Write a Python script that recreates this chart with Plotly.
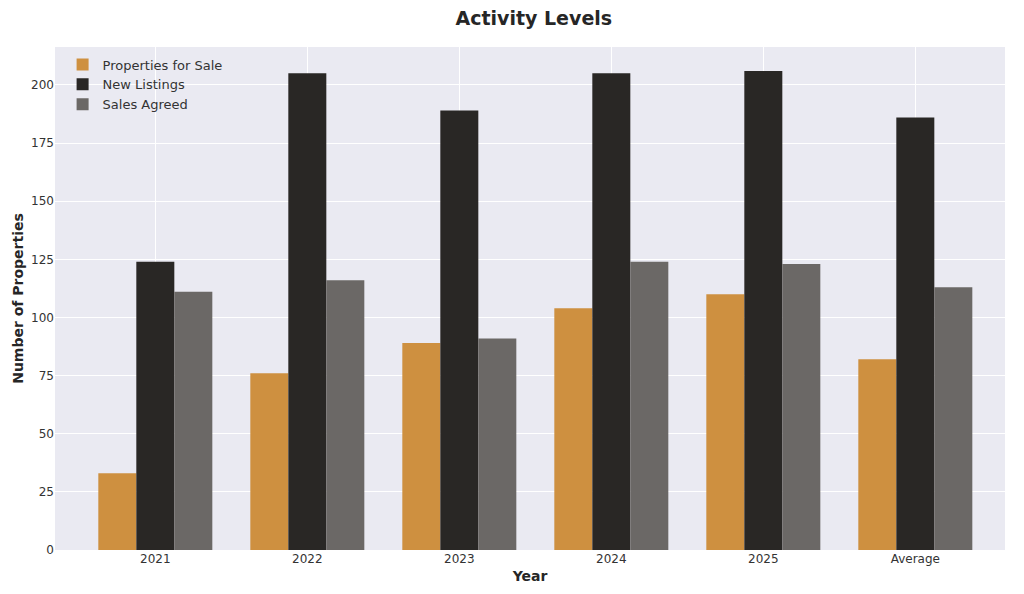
import plotly.graph_objects as go

categories = ["2021", "2022", "2023", "2024", "2025", "Average"]
properties_for_sale = [33, 76, 89, 104, 110, 82]
new_listings = [124, 205, 189, 205, 206, 186]
sales_agreed = [111, 116, 91, 124, 123, 113]
y_ticks = [0, 25, 50, 75, 100, 125, 150, 175, 200]

fig = go.Figure()
fig.add_trace(go.Bar(name="Properties for Sale", x=categories, y=properties_for_sale,
                     marker=dict(color="#CE9040", line=dict(width=0))))
fig.add_trace(go.Bar(name="New Listings", x=categories, y=new_listings,
                     marker=dict(color="#292725", line=dict(width=0))))
fig.add_trace(go.Bar(name="Sales Agreed", x=categories, y=sales_agreed,
                     marker=dict(color="#6B6866", line=dict(width=0))))

fig.update_layout(
    width=1016, height=586,
    barmode="group", bargap=0.25, bargroupgap=0,
    paper_bgcolor="white", plot_bgcolor="#EAEAF2",
    font=dict(family="DejaVu Sans", color="#333333", size=12),
    title=dict(text="<b>Activity Levels</b>", xref="paper", x=0.504, xanchor="center", y=0.983, yanchor="middle",
               font=dict(size=19, color="#262626")),
    margin=dict(l=47, r=19, t=39, b=44),
    legend=dict(x=0.008, y=0.995, xanchor="left", yanchor="top", bgcolor="rgba(0,0,0,0)",
                font=dict(size=13, color="#333333"), itemwidth=30, tracegroupgap=0),
    xaxis=dict(title=dict(text="<b>Year</b>", font=dict(size=14, color="#262626"), standoff=6),
               showgrid=True, gridcolor="white", gridwidth=1, ticks="", range=[-0.66, 5.59],
               tickfont=dict(size=12, color="#333333"), automargin=False),
    yaxis=dict(title=dict(text="<b>Number of Properties</b>", font=dict(size=14, color="#262626"), standoff=4),
               showgrid=True, gridcolor="white", gridwidth=1, range=[0, 216.3],
               tickvals=y_ticks, ticks="", zeroline=False, automargin=False,
               tickfont=dict(size=12, color="#333333")),
)

fig.write_html("out.html")
